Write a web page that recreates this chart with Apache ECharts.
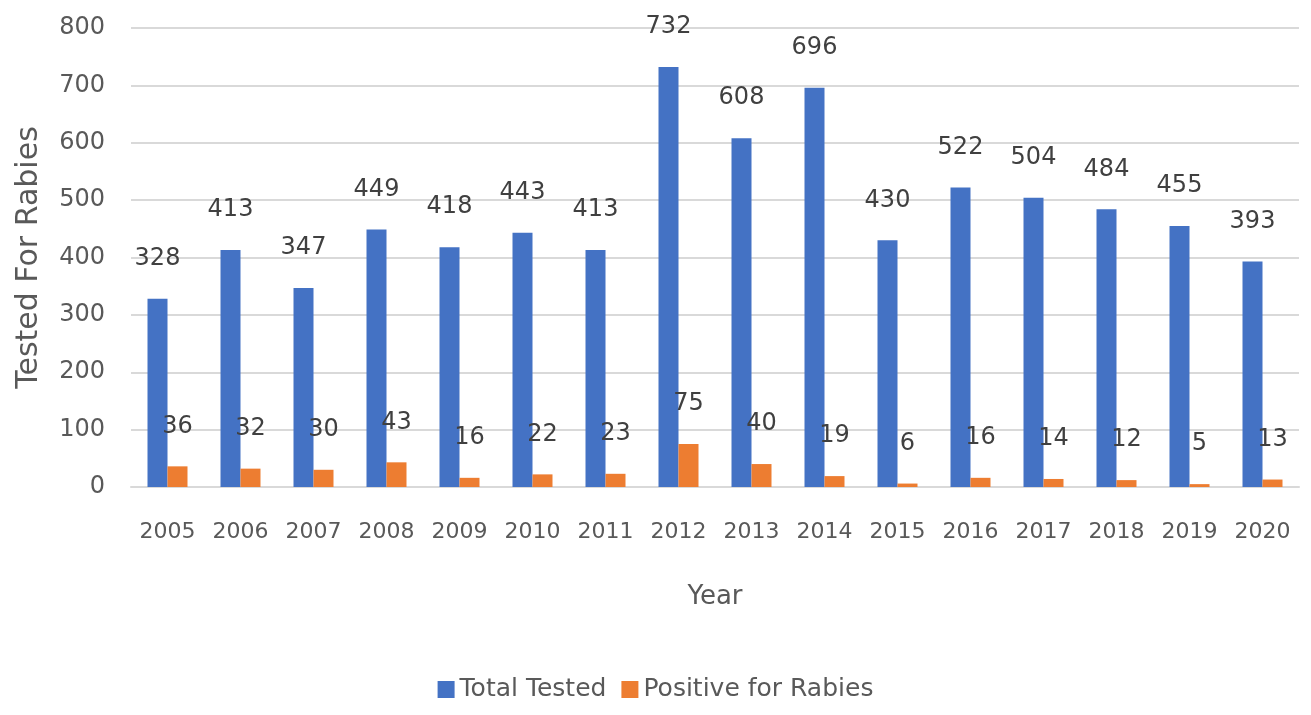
<!DOCTYPE html>
<html>
<head>
<meta charset="utf-8">
<title>Rabies testing</title>
<script src="https://cdn.jsdelivr.net/npm/echarts@6/dist/echarts.min.js"></script>
<style>
  html, body { margin: 0; padding: 0; background: #fff; }
  #main { width: 1311px; height: 715px; }
</style>
</head>
<body>
<div id="main"></div>
<script>
const years = ["2005", "2006", "2007", "2008", "2009", "2010", "2011", "2012",
  "2013", "2014", "2015", "2016", "2017", "2018", "2019", "2020"];
const totalTested = [328, 413, 347, 449, 418, 443, 413, 732, 608, 696, 430, 522, 504, 484, 455, 393];
const positive = [36, 32, 30, 43, 16, 22, 23, 75, 40, 19, 6, 16, 14, 12, 5, 13];
const yTicks = [0, 100, 200, 300, 400, 500, 600, 700, 800];

const font = "DejaVu Sans";
const grey = "#595959";

const myChart = echarts.init(document.getElementById("main"));

// label sits well above the bar top, as in the source
const barLabel = {
  show: true,
  position: "top",
  distance: 28,
  color: "#404040",
  fontFamily: font,
  fontSize: 24
};

const option = {
  animation: false,
  grid: { left: 131, right: 12, top: 28, bottom: 228 },
  legend: {
    bottom: 8,
    left: "center",
    itemWidth: 17,
    itemHeight: 17,
    itemGap: 15,
    icon: "rect",
    textStyle: { color: grey, fontFamily: font, fontSize: 25 },
    data: ["Total Tested", "Positive for Rabies"]
  },
  xAxis: {
    type: "category",
    data: years,
    name: "Year",
    nameLocation: "middle",
    nameGap: 97,
    nameTextStyle: { color: grey, fontFamily: font, fontSize: 26 },
    axisTick: { show: false },
    axisLine: { lineStyle: { color: "#d9d9d9", width: 2 } },
    axisLabel: { color: grey, fontFamily: font, fontSize: 22, margin: 34, interval: 0 }
  },
  yAxis: {
    type: "value",
    min: yTicks[0],
    max: yTicks[yTicks.length - 1],
    interval: 100,
    name: "Tested For Rabies",
    nameLocation: "middle",
    nameGap: 87,
    nameTextStyle: { color: grey, fontFamily: font, fontSize: 30 },
    axisLine: { show: false },
    axisTick: { show: false },
    axisLabel: { color: grey, fontFamily: font, fontSize: 24, margin: 26 },
    splitLine: { lineStyle: { color: "#d9d9d9", width: 2 } }
  },
  series: [
    {
      name: "Total Tested",
      type: "bar",
      data: totalTested,
      barWidth: 20,
      barGap: "0%",
      itemStyle: { color: "#4472C4" },
      label: barLabel
    },
    {
      name: "Positive for Rabies",
      type: "bar",
      data: positive,
      barWidth: 20,
      itemStyle: { color: "#ED7D31" },
      label: barLabel
    }
  ]
};

myChart.setOption(option);
window.addEventListener("resize", () => {
  myChart.resize();
});
</script>
</body>
</html>
